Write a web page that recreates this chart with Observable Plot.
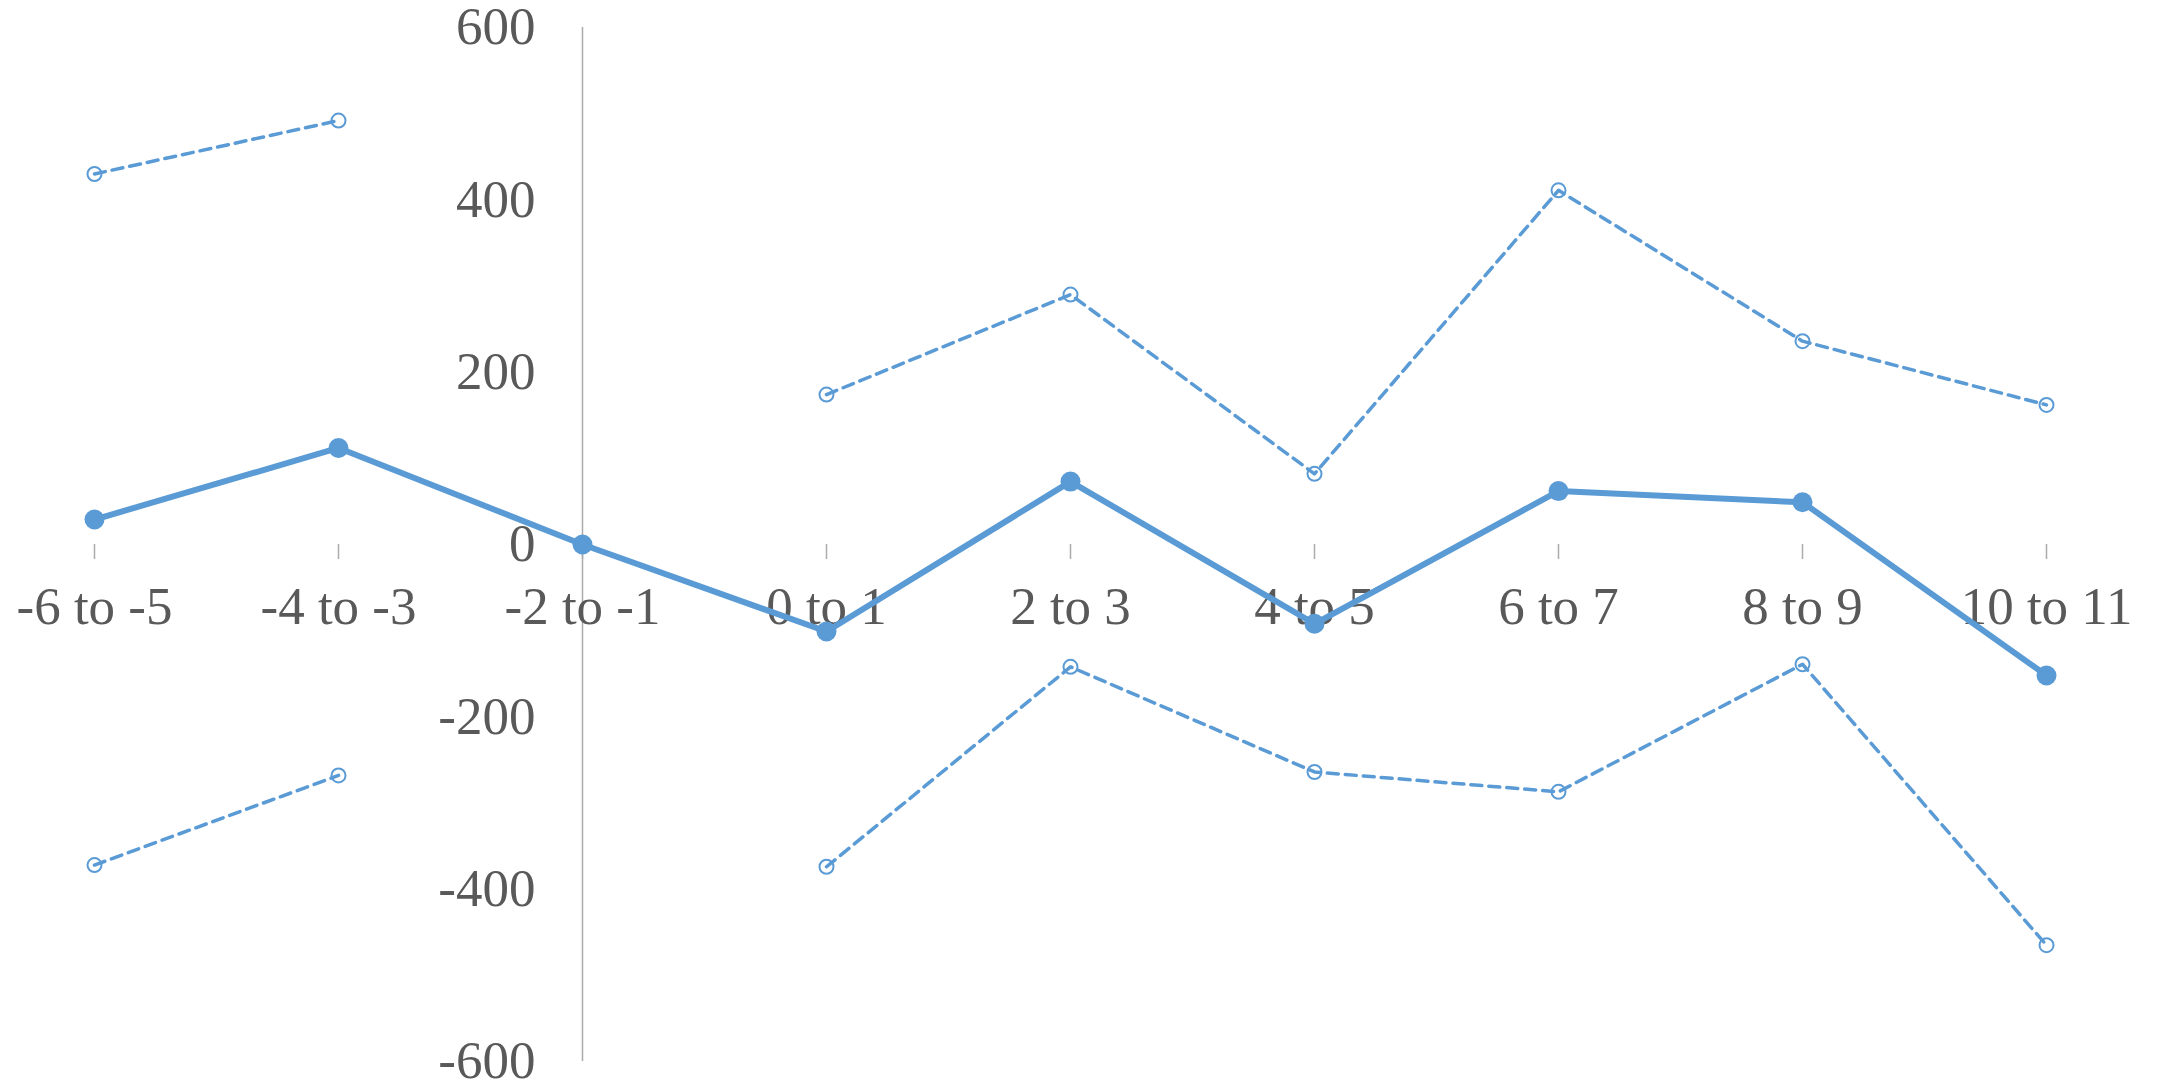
<!DOCTYPE html>
<html>
<head>
<meta charset="utf-8">
<script src="https://cdn.jsdelivr.net/npm/d3@7"></script>
<script src="https://cdn.jsdelivr.net/npm/@observablehq/plot@0.6"></script>
<style>
  html, body { margin: 0; padding: 0; background: #fff; overflow: hidden; }
  #chart svg { display: block; }
</style>
</head>
<body>
<div id="chart"></div>
<script>
const categories = ["-6 to -5", "-4 to -3", "-2 to -1", "0 to 1", "2 to 3", "4 to 5", "6 to 7", "8 to 9", "10 to 11"];
const midValues   = [29, 112, 0, -101, 73, -92, 62, 49, -152];
const upperValues = [430, 492, null, 174, 290, 82, 411, 236, 162];
const lowerValues = [-372, -268, null, -374, -142, -264, -287, -139, -465];
const yTicks = [-600, -400, -200, 0, 200, 400, 600];
const yTickLabels = ["-600", "-400", "-200", "0", "200", "400", "600"];

const W = 2166, H = 1083;
const mTop = 27, mBottom = 22, mLeft = 92, mRight = 118;
const blue = "#5b9bd5";
const axisGray = "#ababab";
const textGray = "#595959";
const tickPx = 15;
const tickUnits = tickPx * 1200 / (H - mTop - mBottom);

const rows = categories.map((c, i) => ({
  c, mid: midValues[i],
  upper: upperValues[i] == null ? NaN : upperValues[i],
  lower: lowerValues[i] == null ? NaN : lowerValues[i]
}));
const yAxisAt = categories[2];
const tickRows = yTicks.map((v, i) => ({v, label: yTickLabels[i]}));

const chart = Plot.plot({
  width: W,
  height: H,
  marginTop: mTop,
  marginBottom: mBottom,
  marginLeft: mLeft,
  marginRight: mRight,
  style: {fontFamily: "'Liberation Serif', 'Times New Roman', serif", background: "#fff", overflow: "visible"},
  x: {type: "point", domain: categories, padding: 0, axis: null},
  y: {domain: [-600, 600], axis: null},
  marks: [
    Plot.ruleX([yAxisAt], {stroke: axisGray, strokeWidth: 1.5}),
    Plot.ruleY([0], {x1: categories[0], x2: categories[categories.length - 1], stroke: axisGray, strokeWidth: 1.5}),
    Plot.ruleX(categories, {x: d => d, y1: 0, y2: -tickUnits, stroke: axisGray, strokeWidth: 1.5}),
    Plot.text(tickRows, {x: () => yAxisAt, y: "v", text: "label", dx: -47, textAnchor: "end", fontSize: 53, fill: textGray}),
    Plot.text(categories, {x: d => d, y: () => 0, text: d => d, dy: 63, fontSize: 53, fill: textGray}),
    Plot.line(rows, {x: "c", y: "upper", stroke: blue, strokeWidth: 3.5, strokeDasharray: "11,7"}),
    Plot.line(rows, {x: "c", y: "lower", stroke: blue, strokeWidth: 3.5, strokeDasharray: "11,7"}),
    Plot.dot(rows, {x: "c", y: "upper", r: 7, stroke: blue, strokeWidth: 2, fill: "none"}),
    Plot.dot(rows, {x: "c", y: "lower", r: 7, stroke: blue, strokeWidth: 2, fill: "none"}),
    Plot.line(rows, {x: "c", y: "mid", stroke: blue, strokeWidth: 6}),
    Plot.dot(rows, {x: "c", y: "mid", r: 10, fill: blue, stroke: "none"})
  ]
});
document.getElementById("chart").appendChild(chart);
</script>
</body>
</html>
